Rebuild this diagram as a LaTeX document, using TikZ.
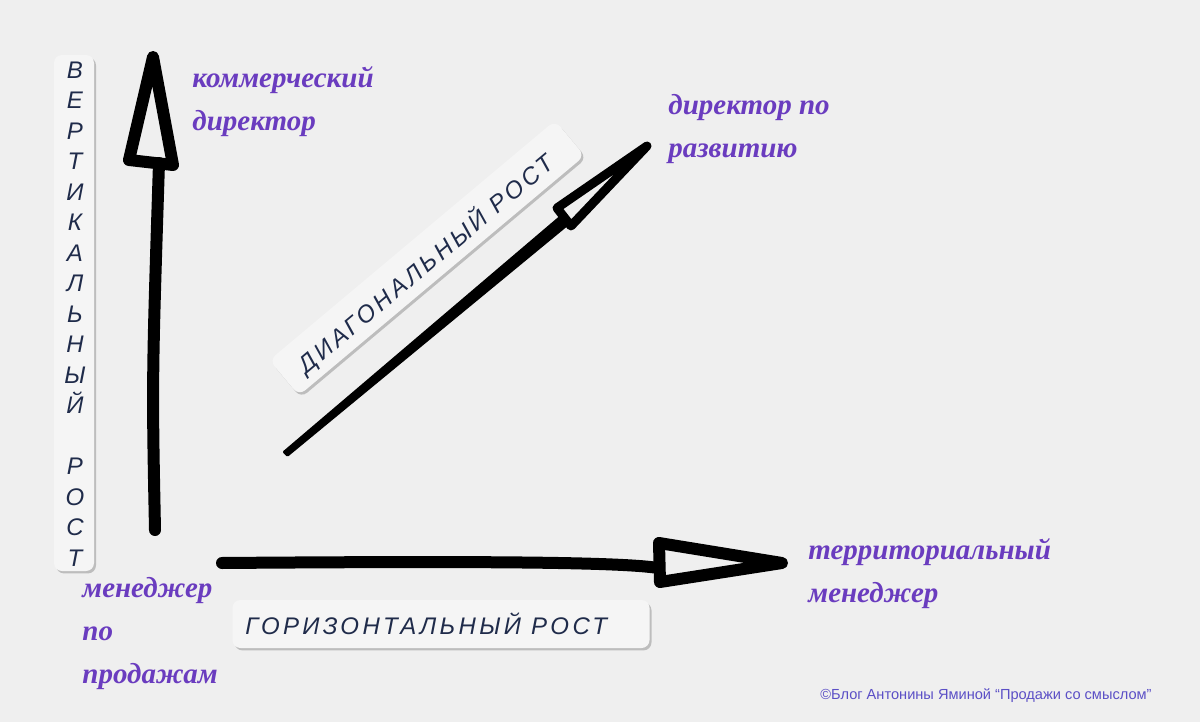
\documentclass[tikz,border=0pt]{standalone}
\usepackage{fontspec}
\usepackage{xcolor}
\usepackage{tikz}
\usetikzlibrary{shadows}
\setmainfont{Liberation Serif}
\newfontfamily\tagfont{Liberation Sans}[LetterSpace=14]
\newfontfamily\notefont{Liberation Sans}
\definecolor{bgray}{HTML}{EFEFEF}
\definecolor{tagfill}{HTML}{F5F5F5}
\definecolor{tagink}{HTML}{1F2B4A}
\definecolor{labelviolet}{HTML}{6A3CBF}
\definecolor{noteblue}{HTML}{5B4FC6}

\begin{document}
\begin{tikzpicture}[x=0.5pt, y=-0.5pt,
        tag/.style={fill=tagfill, rounded corners=4pt,
            drop shadow={shadow xshift=1pt, shadow yshift=-1.2pt, opacity=0.3, fill=black!70}},
        tagtext/.style={text=tagink, inner sep=0pt,
            font=\tagfont\itshape\fontsize{12}{15.25}\selectfont},
        post/.style={text=labelviolet, align=left, anchor=base west, inner sep=0pt,
            font=\bfseries\itshape\fontsize{14.5}{21.5}\selectfont},
        stroke/.style={line width=6pt, line cap=round, line join=round}]

            \fill[bgray] (0, 0) rectangle (1200, 722);
            \useasboundingbox (0, 0) rectangle (1200, 722);

            \node[tag, minimum width=20pt, minimum height=258pt] (vbox) at (74, 313) {};
            \node[tagtext, align=center] (vtext) at (75, 314)
                {В\\Е\\Р\\Т\\И\\К\\А\\Л\\Ь\\Н\\Ы\\Й\\\mbox{}\\Р\\О\\С\\Т};

            \node[tag, minimum width=208.5pt, minimum height=24pt] (hbox) at (441, 624) {};
            \node[tagtext, anchor=base west] (htext) at (245, 634) {ГОРИЗОНТАЛЬНЫЙ РОСТ};

            \node[tag, rotate=40, minimum width=186.5pt, minimum height=23pt] (dbox) at (427, 258) {};
            \node[tagtext, rotate=40] (dtext) at (426, 264) {ДИАГОНАЛЬНЫЙ РОСТ};

            \coordinate (vfoot) at (155, 530);
            \coordinate (vneck) at (159, 163);
            \coordinate (vtip) at (153, 57);
            \draw[stroke] (vfoot) .. controls (152, 380) .. (vneck);
            \draw[stroke] (129, 160) -- (vtip) -- (173, 165) -- cycle;

            \coordinate (hfoot) at (222, 563);
            \coordinate (hneck) at (658, 568);
            \coordinate (htip) at (782, 563);
            \draw[stroke] (hfoot) .. controls (480, 561) and (620, 562) .. (hneck);
            \draw[stroke] (659, 543) -- (htip) -- (660, 582) -- cycle;

            \coordinate (dfoot) at (286, 454);
            \coordinate (dtip) at (647, 146);
            \draw[line width=1.5pt, line join=round, fill] (284.5, 452) -- (563, 215) -- (569, 223) -- (287.5, 455) -- cycle;
            \draw[stroke, line width=4.5pt] (557, 208) -- (dtip) -- (571, 226) -- cycle;

            \node[post] (topjob) at (192, 131) {коммерческий\\директор};
            \node[post] (devjob) at (668, 158) {директор по\\развитию};
            \node[post] (areajob) at (808, 602) {территориальный\\менеджер};
            \node[post] (salesjob) at (82, 683) {менеджер\\по\\продажам};

            \node[text=noteblue, inner sep=0pt, anchor=base west, font=\notefont\fontsize{7.3}{9}\selectfont]
                (credit) at (820, 699) {©Блог Антонины Яминой “Продажи со смыслом”};

        \end{tikzpicture}
\end{document}
